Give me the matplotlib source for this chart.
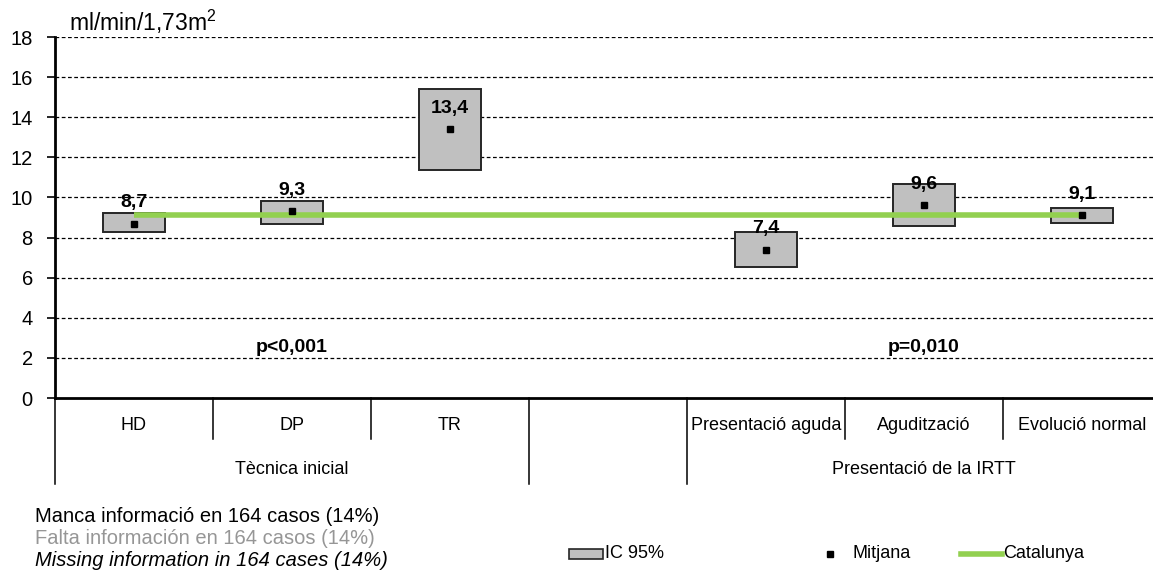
import numpy as np
import matplotlib
matplotlib.use("Agg")
import matplotlib.pyplot as plt
from matplotlib.patches import Rectangle
from matplotlib.lines import Line2D
from matplotlib.transforms import blended_transform_factory

plt.rcParams['font.family'] = ['Liberation Sans', 'DejaVu Sans']
plt.rcParams['mathtext.fontset'] = 'custom'
plt.rcParams['mathtext.rm'] = 'Liberation Sans'

# --- data -------------------------------------------------------------
categories = ["HD", "DP", "TR", "", "Presentació aguda", "Agudització", "Evolució normal"]
groups = ["Tècnica inicial", "Presentació de la IRTT"]
group_centers = [1.5, 5.5]
means = [8.7, 9.3, 13.4, np.nan, 7.4, 9.6, 9.1]
ci_low = [8.3, 8.7, 11.35, np.nan, 6.55, 8.6, 8.75]
ci_high = [9.2, 9.8, 15.4, np.nan, 8.3, 10.65, 9.45]
catalunya = 9.1
p_values = ["p<0,001", "p=0,010"]
p_positions = [1.5, 5.5]
yticks = [0, 2, 4, 6, 8, 10, 12, 14, 16, 18]
footnotes = ["Manca informació en 164 casos (14%)",
             "Falta información en 164 casos (14%)",
             "Missing information in 164 cases (14%)"]

W, H = 1153, 575
fig = plt.figure(figsize=(W / 100, H / 100), dpi=100)

def fx(px):
    return px / W

def fy(py):
    return 1 - py / H

left, top, bottom, right = 55, 37, 398, 1161
ax = fig.add_axes([fx(left), fy(bottom), fx(right - left), (bottom - top) / H])

x = np.arange(len(categories)) + 0.5
means_a = np.array(means)
low_a = np.array(ci_low)
high_a = np.array(ci_high)
valid = ~np.isnan(means_a)

# confidence-interval boxes
ax.bar(x[valid], (high_a - low_a)[valid], bottom=low_a[valid], width=0.39,
       color='#c0c0c0', edgecolor='#262626', linewidth=1.4, zorder=3)

# reference line for Catalonia
ax.plot([x[0], x[-1]], [catalunya, catalunya], color='#92d050', lw=4,
        solid_capstyle='butt', zorder=4)

# means
ax.plot(x[valid], means_a[valid], ls='none', marker='s', ms=4.2, color='black',
        zorder=5)

for xi, m in zip(x[valid], means_a[valid]):
    ax.annotate(f"{m:.1f}".replace('.', ','), (xi, m), xytext=(0, 15),
                textcoords='offset points', ha='center', va='center',
                fontsize=14, fontweight='bold', zorder=6)

for lbl, px_ in zip(p_values, p_positions):
    ax.text(px_, 2.5, lbl, ha='center', va='center', fontsize=14,
            fontweight='bold', zorder=6)

ax.set_xlim(0, 7)
ax.set_ylim(0, 18)
ax.set_yticks(yticks)
ax.set_yticklabels([str(t) for t in yticks], fontsize=14.5)
ax.tick_params(axis='y', direction='out', length=6, width=1.2, pad=10)
ax.set_xticks([])
for t in yticks[1:]:
    ax.axhline(t, color='black', lw=0.9, ls=(0, (3, 2)), zorder=1)

for s in ['top', 'right']:
    ax.spines[s].set_visible(False)
ax.spines['left'].set_linewidth(2)
ax.spines['bottom'].set_linewidth(2)

ax.text(fx(69), fy(22), r"ml/min/1,73m$^{\mathregular{2}}$", transform=fig.transFigure,
        fontsize=16.5, ha='left', va='center')

# two-level category axis
tr = blended_transform_factory(ax.transData, ax.transAxes)
ax_h = bottom - top
short_y = -(439 - bottom) / ax_h
long_y = -(484 - bottom) / ax_h
for b in range(len(categories) + 1):
    is_long = b in (0, 3, 4, 7)
    ax.plot([b, b], [0, long_y if is_long else short_y], color='black', lw=1.1,
            transform=tr, clip_on=False)
for xi, c in zip(x, categories):
    ax.text(xi, -(425 - bottom) / ax_h, c, transform=tr, ha='center', va='center',
            fontsize=13)
for gc, g in zip(group_centers, groups):
    ax.text(gc, -(470 - bottom) / ax_h, g, transform=tr, ha='center', va='center',
            fontsize=13)

# footnotes
fig.text(fx(35), fy(516), footnotes[0], fontsize=14.5, color='black', va='center')
fig.text(fx(35), fy(538), footnotes[1], fontsize=14.5, color='#969696', va='center')
fig.text(fx(35), fy(560), footnotes[2], fontsize=14.5, color='black', va='center',
         style='italic')

# legend
ly = 554
fig.add_artist(Rectangle((fx(569), fy(ly + 5)), fx(34), 10 / H, transform=fig.transFigure,
                         facecolor='#c0c0c0', edgecolor='#262626', lw=1.2))
fig.text(fx(605), fy(ly), "IC 95%", fontsize=13, va='center')
fig.add_artist(Line2D([fx(830)], [fy(ly)], marker='s', ms=4.2, color='black', ls='none',
                      transform=fig.transFigure))
fig.text(fx(853), fy(ly), "Mitjana", fontsize=13, va='center')
fig.add_artist(Line2D([fx(961), fx(1002)], [fy(ly), fy(ly)], color='#92d050', lw=4,
                      transform=fig.transFigure))
fig.text(fx(1003), fy(ly), "Catalunya", fontsize=13, va='center')

fig.savefig("out.png", dpi=100)
